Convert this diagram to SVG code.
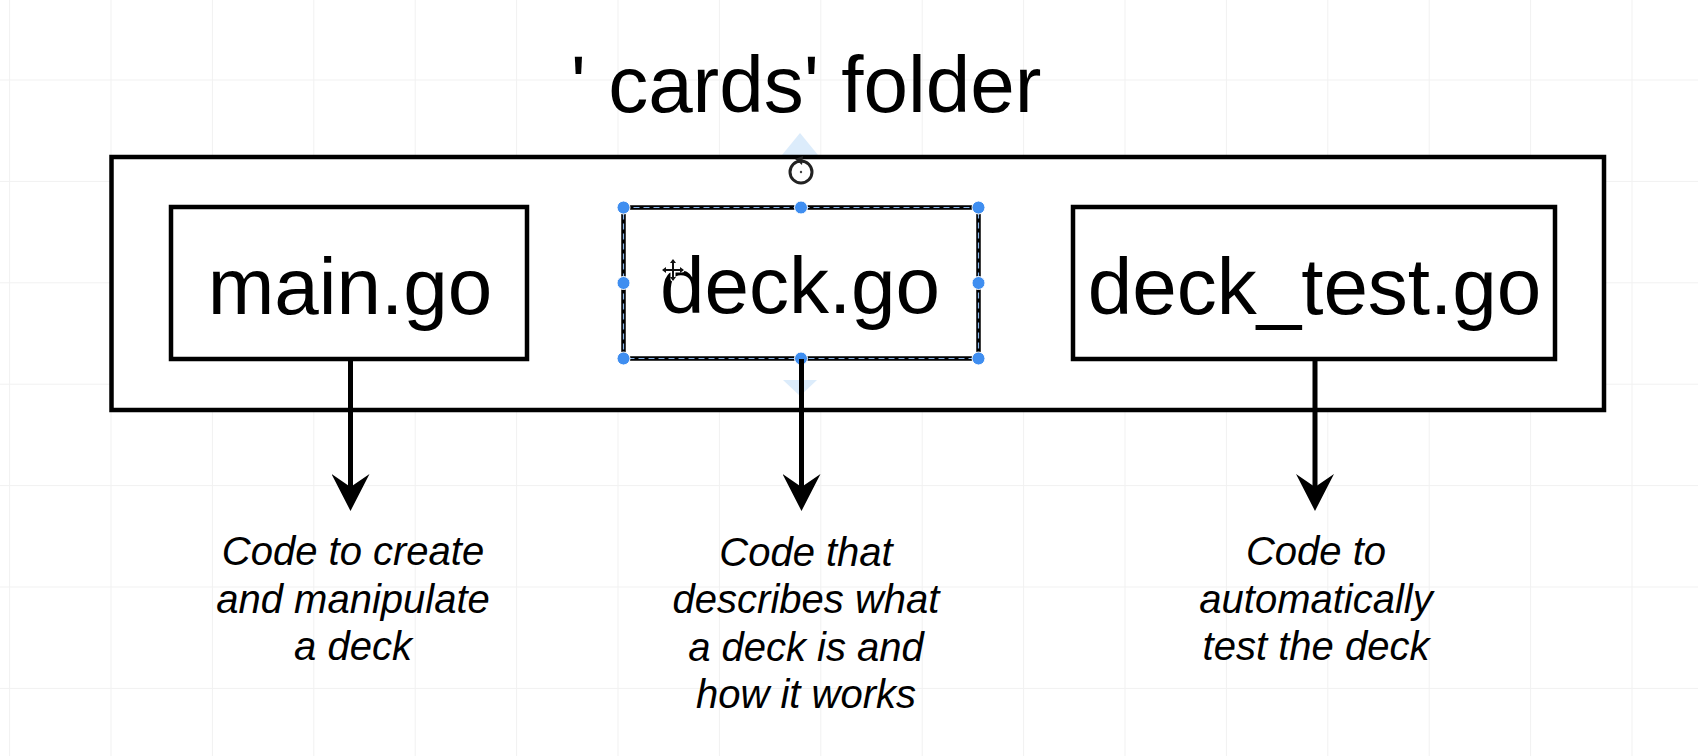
<svg xmlns="http://www.w3.org/2000/svg" width="1698" height="756" viewBox="0 0 1698 756">
  <defs>
    <style>
      .grid line { stroke: #f1f1f1; stroke-width: 1; }
      .box { fill: #ffffff; stroke: #000000; stroke-width: 4.5; }
      .file { font-family: "Liberation Sans", Arial, sans-serif; font-size: 80px; fill: #000000; text-anchor: middle; }
      .cap { font-family: "Liberation Sans", Arial, sans-serif; font-size: 40px; font-style: italic; fill: #000000; text-anchor: middle; }
      .conn { stroke: #000000; stroke-width: 5; fill: none; marker-end: url(#arrow); }
      .handle { fill: #3f8ef0; stroke: #ffffff; stroke-width: 1; }
      .hint { fill: #dcecfb; }
    </style>
    <marker id="arrow" markerUnits="userSpaceOnUse" viewBox="0 0 37 38" markerWidth="37" markerHeight="38" refX="18" refY="19" orient="auto">
      <path d="M0,0 L37,19 L0,38 L13,19 Z" fill="#000000"/>
    </marker>
  </defs>

  <rect x="0" y="0" width="1698" height="756" fill="#ffffff"/>

  <g class="grid">
    <line x1="9.6" y1="0" x2="9.6" y2="756"/>
    <line x1="111" y1="0" x2="111" y2="756"/>
    <line x1="212.4" y1="0" x2="212.4" y2="756"/>
    <line x1="313.8" y1="0" x2="313.8" y2="756"/>
    <line x1="415.2" y1="0" x2="415.2" y2="756"/>
    <line x1="516.6" y1="0" x2="516.6" y2="756"/>
    <line x1="618" y1="0" x2="618" y2="756"/>
    <line x1="719.4" y1="0" x2="719.4" y2="756"/>
    <line x1="820.8" y1="0" x2="820.8" y2="756"/>
    <line x1="922.2" y1="0" x2="922.2" y2="756"/>
    <line x1="1023.6" y1="0" x2="1023.6" y2="756"/>
    <line x1="1125" y1="0" x2="1125" y2="756"/>
    <line x1="1226.4" y1="0" x2="1226.4" y2="756"/>
    <line x1="1327.8" y1="0" x2="1327.8" y2="756"/>
    <line x1="1429.2" y1="0" x2="1429.2" y2="756"/>
    <line x1="1530.6" y1="0" x2="1530.6" y2="756"/>
    <line x1="1632" y1="0" x2="1632" y2="756"/>
    <line x1="0" y1="80" x2="1698" y2="80"/>
    <line x1="0" y1="181.4" x2="1698" y2="181.4"/>
    <line x1="0" y1="282.8" x2="1698" y2="282.8"/>
    <line x1="0" y1="384.2" x2="1698" y2="384.2"/>
    <line x1="0" y1="485.6" x2="1698" y2="485.6"/>
    <line x1="0" y1="587" x2="1698" y2="587"/>
    <line x1="0" y1="688.4" x2="1698" y2="688.4"/>
  </g>

  <g id="title">
    <text x="806" y="111.5" class="file">' cards' folder</text>
  </g>

  <g id="node-folder">
    <polygon class="hint" points="800,133 818,155 782,155"/>
    <rect class="box" x="111.5" y="157" width="1492.5" height="253"/>
    <polygon class="hint" points="783,380 817,380 800,396"/>
  </g>

  <g id="node-main">
    <rect class="box" x="171" y="207" width="356" height="152"/>
    <text x="350" y="314" class="file">main.go</text>
  </g>

  <g id="node-deck">
    <rect class="box" x="623.5" y="207.5" width="355" height="151" stroke-width="3.5"/>
    <rect x="623.5" y="207.5" width="355" height="151" fill="none" stroke="#8ab8ee" stroke-width="1.2" stroke-dasharray="6 4"/>
    <text x="800" y="313" class="file">deck.go</text>
    <circle class="handle" cx="623.5" cy="207.5" r="6.5"/>
    <circle class="handle" cx="801" cy="207.5" r="6.5"/>
    <circle class="handle" cx="978.5" cy="207.5" r="6.5"/>
    <circle class="handle" cx="623.5" cy="283" r="6.5"/>
    <circle class="handle" cx="978.5" cy="283" r="6.5"/>
    <circle class="handle" cx="623.5" cy="358.5" r="6.5"/>
    <circle class="handle" cx="801" cy="358.5" r="6.5"/>
    <circle class="handle" cx="978.5" cy="358.5" r="6.5"/>
    <g id="rotate-handle">
      <circle cx="801" cy="172" r="11" fill="#ffffff" stroke="#222222" stroke-width="3"/>
      <path d="M795,159 L803,156 L802,165 Z" fill="#222222"/>
      <circle cx="801" cy="172" r="1.2" fill="#444444"/>
    </g>
    <g id="move-cursor" stroke-linecap="round">
      <path d="M673,261 L673,279 M664,270 L682,270" stroke="#ffffff" stroke-width="5"/>
      <path d="M673,261 L673,279 M664,270 L682,270" stroke="#111111" stroke-width="2"/>
      <path d="M673,259 L670,263 L676,263 Z M673,281 L670,277 L676,277 Z M662,270 L666,267 L666,273 Z M684,270 L680,267 L680,273 Z" fill="#111111"/>
    </g>
  </g>

  <g id="node-deck-test">
    <rect class="box" x="1073" y="207" width="482" height="152"/>
    <text x="1314.5" y="314" class="file">deck_test.go</text>
  </g>

  <g id="connectors">
    <line class="conn" x1="350.5" y1="359" x2="350.5" y2="492"/>
    <line class="conn" x1="801.5" y1="359" x2="801.5" y2="492"/>
    <line class="conn" x1="1315" y1="359" x2="1315" y2="492"/>
  </g>

  <g id="caption-main">
    <text class="cap" x="353" y="565">Code to create</text>
    <text class="cap" x="353" y="612.5">and manipulate</text>
    <text class="cap" x="353" y="660">a deck</text>
  </g>

  <g id="caption-deck">
    <text class="cap" x="806" y="565.5">Code that</text>
    <text class="cap" x="806" y="613">describes what</text>
    <text class="cap" x="806" y="660.5">a deck is and</text>
    <text class="cap" x="806" y="708">how it works</text>
  </g>

  <g id="caption-deck-test">
    <text class="cap" x="1316" y="565">Code to</text>
    <text class="cap" x="1316" y="612.5">automatically</text>
    <text class="cap" x="1316" y="660">test the deck</text>
  </g>
</svg>
